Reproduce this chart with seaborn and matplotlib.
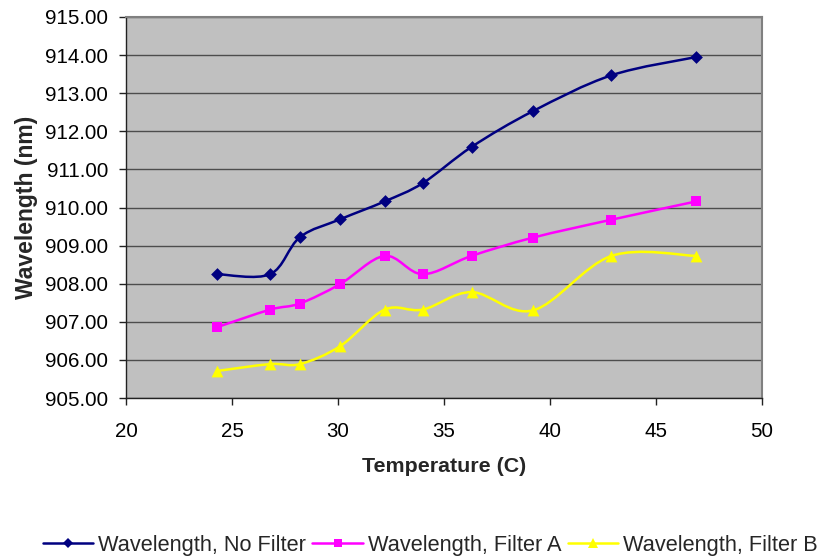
import numpy as np
import pandas as pd
import matplotlib
matplotlib.use('Agg')
import matplotlib.pyplot as plt
from matplotlib.path import Path
from matplotlib.patches import PathPatch
from matplotlib.lines import Line2D
from matplotlib.ticker import FormatStrFormatter, MultipleLocator
import seaborn as sns

# ---------------- data ----------------
temperature = [24.3, 26.8, 28.2, 30.1, 32.2, 34.0, 36.3, 39.2, 42.9, 46.9]
wl_no_filter = [908.25, 908.25, 909.22, 909.69, 910.16, 910.64, 911.59, 912.53, 913.47, 913.95]
wl_filter_a = [906.86, 907.32, 907.48, 907.99, 908.73, 908.25, 908.73, 909.21, 909.68, 910.16]
wl_filter_b = [905.71, 905.89, 905.89, 906.36, 907.32, 907.32, 907.78, 907.30, 908.73, 908.73]
series_names = ['Wavelength, No Filter', 'Wavelength, Filter A', 'Wavelength, Filter B']

df = pd.DataFrame({
    'temperature': temperature * 3,
    'wavelength': wl_no_filter + wl_filter_a + wl_filter_b,
    'series': np.repeat(series_names, len(temperature)),
})

colors = {series_names[0]: '#000080', series_names[1]: '#FF00FF', series_names[2]: '#FFFF00'}
markers = {series_names[0]: 'D', series_names[1]: 's', series_names[2]: '^'}
msize = {series_names[0]: 6.5, series_names[1]: 7.5, series_names[2]: 8.5}

sns.set_theme(style='white')
plt.rcParams['font.family'] = ['Liberation Sans', 'DejaVu Sans']
FS = 14.8


def smooth_path(x, y):
    """Excel-style smoothed line: cubic Bezier through the points (Catmull-Rom tangents)."""
    pts = np.column_stack([x, y]).astype(float)
    n = len(pts)
    verts = [pts[0]]
    codes = [Path.MOVETO]
    for i in range(n - 1):
        p_prev = pts[i - 1] if i > 0 else pts[i]
        p_next2 = pts[i + 2] if i + 2 < n else pts[i + 1]
        c1 = pts[i] + (pts[i + 1] - p_prev) / 6.0
        c2 = pts[i + 1] - (p_next2 - pts[i]) / 6.0
        verts += [c1, c2, pts[i + 1]]
        codes += [Path.CURVE4] * 3
    return Path(verts, codes)


fig = plt.figure(figsize=(8.21, 5.59), dpi=100)
ax = fig.add_axes([126 / 821, 1 - 398 / 559, (762 - 126) / 821, (398 - 17) / 559])
ax.set_facecolor('#C0C0C0')

# smoothed connecting lines
for name in series_names:
    sub = df[df['series'] == name]
    ax.add_patch(PathPatch(smooth_path(sub['temperature'], sub['wavelength']),
                           facecolor='none', edgecolor=colors[name], lw=1.8, zorder=3))

# markers
for name in series_names:
    sub = df[df['series'] == name]
    sns.scatterplot(data=sub, x='temperature', y='wavelength', ax=ax,
                    color=colors[name], marker=markers[name], s=msize[name] ** 2,
                    edgecolor=colors[name], linewidth=0, zorder=4, legend=False)

ax.set_xlim(20, 50)
ax.set_ylim(905, 915)
ax.xaxis.set_major_locator(MultipleLocator(5))
ax.yaxis.set_major_locator(MultipleLocator(1))
ax.yaxis.set_major_formatter(FormatStrFormatter('%.2f'))
ax.yaxis.grid(True, color='#4d4d4d', lw=1.0)
ax.xaxis.grid(False)
ax.set_axisbelow(True)

for side in ['top', 'right']:
    ax.spines[side].set_color('#808080')
    ax.spines[side].set_linewidth(1.5)
for side in ['left', 'bottom']:
    ax.spines[side].set_color('#222222')
    ax.spines[side].set_linewidth(1.0)

ax.tick_params(axis='both', which='major', direction='out', length=5, width=1,
               color='#222222', labelsize=FS, labelcolor='black',
               left=True, bottom=True)
ax.tick_params(axis='y', pad=8)
ax.tick_params(axis='x', pad=12)

ax.set_xlabel('Temperature (C)', fontsize=15.4, fontweight='bold', labelpad=12)
ax.set_ylabel('Wavelength (nm)', fontsize=16.5, fontweight='bold', labelpad=5)

handles = [Line2D([0], [0], color=colors[n], lw=1.8, marker=markers[n],
                  markersize=msize[n] * 0.85, markeredgewidth=0) for n in series_names]
fig.legend(handles, series_names, loc='center', bbox_to_anchor=(0.524, 0.025),
           ncol=3, frameon=False, fontsize=15.7, handlelength=2.3, handletextpad=0.23,
           columnspacing=0.3, borderpad=0)

fig.savefig('out.png', dpi=100)
